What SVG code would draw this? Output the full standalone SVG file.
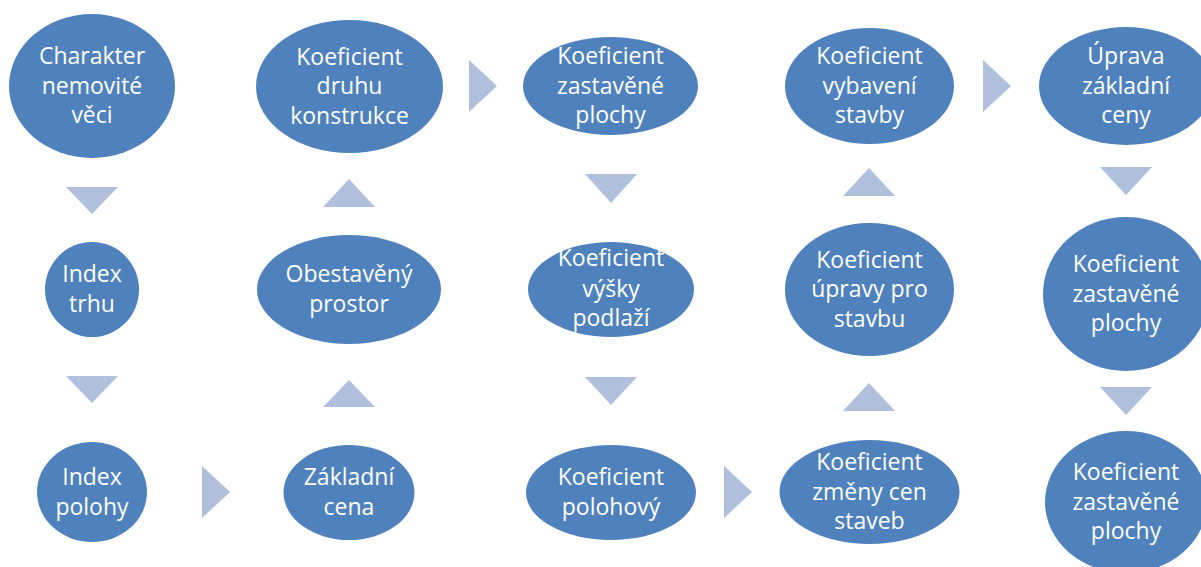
<svg xmlns="http://www.w3.org/2000/svg" width="1201" height="567" viewBox="0 0 1201 567">
<style>
.n{fill:#4F81BD}
.t{fill:#FFFFFF;font-family:"Open Sans",Lato,"Liberation Sans",sans-serif;font-size:23px;text-anchor:middle}
.a{fill:#B0C0DC}
</style>
<rect width="1201" height="567" fill="#FFFFFF"/>
<g id="connectors">
<polygon class="a" points="66,187 118,187 92,214"/>
<polygon class="a" points="66,376 118,376 92,403"/>
<polygon class="a" points="202,466 202,518 230,492"/>
<polygon class="a" points="323,407 375,407 349,380"/>
<polygon class="a" points="323,207 375,207 349,179"/>
<polygon class="a" points="469,60 469,112 497,86"/>
<polygon class="a" points="585,174 637,174 611,203"/>
<polygon class="a" points="585,377 637,377 611,405"/>
<polygon class="a" points="724,466 724,518 752,492"/>
<polygon class="a" points="843,411 895,411 869,383"/>
<polygon class="a" points="843,196 895,196 869,168"/>
<polygon class="a" points="983,60 983,112 1011,86"/>
<polygon class="a" points="1100,167 1152,167 1126,195"/>
<polygon class="a" points="1100,387 1152,387 1126,415"/>
</g>
<g id="n1"><ellipse class="n" cx="92" cy="86" rx="83" ry="72"/>
<text class="t" x="92" y="64">Charakter</text><text class="t" x="92" y="93.5">nemovité</text><text class="t" x="92" y="123">věci</text></g>
<g id="n2"><ellipse class="n" cx="92" cy="289.5" rx="47" ry="47.5"/>
<text class="t" x="92" y="282">Index</text><text class="t" x="92" y="312">trhu</text></g>
<g id="n3"><ellipse class="n" cx="92" cy="492" rx="55" ry="50"/>
<text class="t" x="92" y="484.5">Index</text><text class="t" x="92" y="514.5">polohy</text></g>
<g id="n4"><ellipse class="n" cx="349" cy="492.5" rx="65.5" ry="47.5"/>
<text class="t" x="349" y="485">Základní</text><text class="t" x="349" y="515">cena</text></g>
<g id="n5"><ellipse class="n" cx="349" cy="289.5" rx="92" ry="54.5"/>
<text class="t" x="349" y="282">Obestavěný</text><text class="t" x="349" y="312">prostor</text></g>
<g id="n6"><ellipse class="n" cx="349.5" cy="86.5" rx="93.5" ry="66.5"/>
<text class="t" x="349.5" y="64.5">Koeficient</text><text class="t" x="349.5" y="94">druhu</text><text class="t" x="349.5" y="123.5">konstrukce</text></g>
<g id="n7"><ellipse class="n" cx="610.5" cy="86" rx="87.5" ry="49"/>
<text class="t" x="610.5" y="64">Koeficient</text><text class="t" x="610.5" y="93.5">zastavěné</text><text class="t" x="610.5" y="123">plochy</text></g>
<g id="n8"><ellipse class="n" cx="611" cy="289.5" rx="83" ry="47.5"/>
<text class="t" x="611" y="266">Koeficient</text><text class="t" x="611" y="296.5">výšky</text><text class="t" x="611" y="326">podlaží</text></g>
<g id="n9"><ellipse class="n" cx="611" cy="492.5" rx="85" ry="47.5"/>
<text class="t" x="611" y="485">Koeficient</text><text class="t" x="611" y="515">polohový</text></g>
<g id="n10"><ellipse class="n" cx="869.5" cy="492" rx="90" ry="52"/>
<text class="t" x="869.5" y="470">Koeficient</text><text class="t" x="869.5" y="499.5">změny cen</text><text class="t" x="869.5" y="529">staveb</text></g>
<g id="n11"><ellipse class="n" cx="869.5" cy="289.5" rx="84.5" ry="66.5"/>
<text class="t" x="869.5" y="267.5">Koeficient</text><text class="t" x="869.5" y="297">úpravy pro</text><text class="t" x="869.5" y="326.5">stavbu</text></g>
<g id="n12"><ellipse class="n" cx="869.5" cy="86" rx="84.5" ry="58"/>
<text class="t" x="869.5" y="64">Koeficient</text><text class="t" x="869.5" y="93.5">vybavení</text><text class="t" x="869.5" y="123">stavby</text></g>
<g id="n13"><ellipse class="n" cx="1126" cy="86" rx="87" ry="59"/>
<text class="t" x="1126" y="64">Úprava</text><text class="t" x="1126" y="93.5">základní</text><text class="t" x="1126" y="123">ceny</text></g>
<g id="n14"><ellipse class="n" cx="1126" cy="294" rx="83" ry="77"/>
<text class="t" x="1126" y="272">Koeficient</text><text class="t" x="1126" y="301.5">zastavěné</text><text class="t" x="1126" y="331">plochy</text></g>
<g id="n15"><ellipse class="n" cx="1126" cy="502" rx="81" ry="71"/>
<text class="t" x="1126" y="480">Koeficient</text><text class="t" x="1126" y="509.5">zastavěné</text><text class="t" x="1126" y="539">plochy</text></g>
</svg>
